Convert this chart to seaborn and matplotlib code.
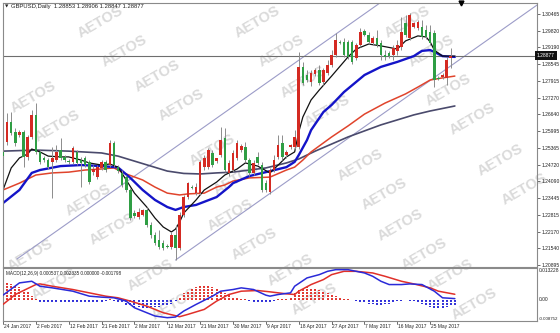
import numpy as np
import pandas as pd
import matplotlib
matplotlib.use("Agg")
import matplotlib.pyplot as plt
import seaborn as sns

sns.set_theme(style="white")
plt.rcParams['font.family'] = ['Liberation Sans', 'DejaVu Sans']

# ---------------- data ----------------
date_labels = ["24 Jan 2017", "2 Feb 2017", "12 Feb 2017", "21 Feb 2017", "2 Mar 2017",
               "12 Mar 2017", "21 Mar 2017", "30 Mar 2017", "9 Apr 2017", "18 Apr 2017",
               "27 Apr 2017", "7 May 2017", "16 May 2017", "25 May 2017"]
label_bars = [0, 8, 16, 24, 32, 40, 48, 56, 64, 72, 80, 88, 96, 104]

opens = [1.2521, 1.2559, 1.2635, 1.2597, 1.2586, 1.2597, 1.2502, 1.2578, 1.2662, 1.2521,
         1.2498, 1.2490, 1.2483, 1.2490, 1.2528, 1.2502, 1.2486, 1.2483, 1.2521, 1.2490,
         1.2498, 1.2483, 1.2444, 1.2425, 1.2460, 1.2483, 1.2471, 1.2555, 1.2463, 1.2441,
         1.2425, 1.2376, 1.2288, 1.2273, 1.2281, 1.2300, 1.2243, 1.2205, 1.2185, 1.2174,
         1.2163, 1.2159, 1.2205, 1.2155, 1.2281, 1.2349, 1.2387, 1.2365, 1.2365, 1.2463,
         1.2463, 1.2517, 1.2486, 1.2509, 1.2574, 1.2441, 1.2452, 1.2498, 1.2528, 1.2540,
         1.2490, 1.2441, 1.2502, 1.2471, 1.2403, 1.2368, 1.2452, 1.2502, 1.2555, 1.2509,
         1.2540, 1.2540, 1.2540, 1.2845, 1.2814, 1.2787, 1.2818, 1.2833, 1.2787, 1.2822,
         1.2852, 1.2890, 1.2940, 1.2940, 1.2940, 1.2940, 1.2879, 1.2928, 1.2982, 1.2967,
         1.2936, 1.2955, 1.2936, 1.2890, 1.2898, 1.2890, 1.2906, 1.2921, 1.3012, 1.2955,
         1.2997, 1.2993, 1.2997, 1.2986, 1.2978, 1.2974, 1.2803, 1.2806, 1.2803, 1.2879,
         1.28853]
highs = [1.2536, 1.2669, 1.2673, 1.2612, 1.2605, 1.2605, 1.2586, 1.2681, 1.2707, 1.2528,
         1.2505, 1.2498, 1.2540, 1.2547, 1.2574, 1.2509, 1.2494, 1.2544, 1.2528, 1.2502,
         1.2505, 1.2490, 1.2471, 1.2471, 1.2490, 1.2490, 1.2566, 1.2563, 1.2471, 1.2452,
         1.2433, 1.2384, 1.2300, 1.2307, 1.2304, 1.2311, 1.2254, 1.2216, 1.2224, 1.2185,
         1.2170, 1.2216, 1.2243, 1.2292, 1.2357, 1.2406, 1.2395, 1.2403, 1.2490, 1.2509,
         1.2536, 1.2528, 1.2498, 1.2616, 1.2612, 1.2490, 1.2528, 1.2566, 1.2551, 1.2559,
         1.2498, 1.2490, 1.2521, 1.2483, 1.2414, 1.2460, 1.2509, 1.2586, 1.2586, 1.2528,
         1.2551, 1.2604, 1.2902, 1.2864, 1.2833, 1.2833, 1.2841, 1.2852, 1.2841, 1.2871,
         1.2909, 1.2974, 1.2947, 1.2955, 1.2947, 1.2947, 1.2936, 1.2993, 1.2989, 1.2978,
         1.2963, 1.2986, 1.2947, 1.2909, 1.2906, 1.2928, 1.2947, 1.3035, 1.3043, 1.3050,
         1.3016, 1.3024, 1.3024, 1.3005, 1.3005, 1.2986, 1.2810, 1.2822, 1.2883, 1.2917,
         1.28906]
lows = [1.2490, 1.2547, 1.2586, 1.2544, 1.2578, 1.2464, 1.2490, 1.2570, 1.2513, 1.2475,
        1.2483, 1.2456, 1.2345, 1.2483, 1.2490, 1.2483, 1.2475, 1.2475, 1.2471, 1.2387,
        1.2463, 1.2399, 1.2433, 1.2418, 1.2452, 1.2444, 1.2463, 1.2463, 1.2441, 1.2387,
        1.2368, 1.2262, 1.2269, 1.2265, 1.2277, 1.2235, 1.2193, 1.2166, 1.2151, 1.2147,
        1.2155, 1.2151, 1.2109, 1.2147, 1.2273, 1.2342, 1.2380, 1.2357, 1.2357, 1.2452,
        1.2456, 1.2463, 1.2479, 1.2502, 1.2444, 1.2429, 1.2444, 1.2490, 1.2521, 1.2483,
        1.2429, 1.2433, 1.2471, 1.2368, 1.2368, 1.2361, 1.2444, 1.2494, 1.2490, 1.2498,
        1.2532, 1.2532, 1.2532, 1.2776, 1.2787, 1.2772, 1.2810, 1.2776, 1.2776, 1.2814,
        1.2845, 1.2883, 1.2932, 1.2883, 1.2875, 1.2856, 1.2871, 1.2921, 1.2963, 1.2932,
        1.2928, 1.2921, 1.2871, 1.2871, 1.2879, 1.2871, 1.2890, 1.2909, 1.2959, 1.2947,
        1.2993, 1.2986, 1.2951, 1.2951, 1.2928, 1.2768, 1.2795, 1.2799, 1.2776, 1.2841,
        1.28847]
closes = [1.2505, 1.2635, 1.2593, 1.2555, 1.2597, 1.2502, 1.2578, 1.2662, 1.2521, 1.2483,
          1.2490, 1.2463, 1.2498, 1.2521, 1.2498, 1.2490, 1.2483, 1.2536, 1.2479, 1.2479,
          1.2471, 1.2406, 1.2456, 1.2463, 1.2483, 1.2452, 1.2555, 1.2471, 1.2448, 1.2395,
          1.2376, 1.2269, 1.2277, 1.2292, 1.2300, 1.2243, 1.2205, 1.2174, 1.2159, 1.2155,
          1.2159, 1.2205, 1.2155, 1.2281, 1.2349, 1.2403, 1.2384, 1.2387, 1.2483, 1.2498,
          1.2528, 1.2471, 1.2498, 1.2566, 1.2452, 1.2479, 1.2517, 1.2555, 1.2544, 1.2490,
          1.2441, 1.2479, 1.2479, 1.2376, 1.2376, 1.2452, 1.2490, 1.2547, 1.2502, 1.2521,
          1.2547, 1.2578, 1.2845, 1.2784, 1.2795, 1.2822, 1.2833, 1.2784, 1.2833, 1.2852,
          1.2890, 1.2947, 1.2936, 1.2890, 1.2883, 1.2864, 1.2928, 1.2978, 1.2967, 1.2940,
          1.2955, 1.2928, 1.2890, 1.2883, 1.2886, 1.2917, 1.2928, 1.2978, 1.2967, 1.3043,
          1.3012, 1.3016, 1.2959, 1.2959, 1.2936, 1.2795, 1.2799, 1.2814, 1.2871, 1.2886,
          1.28877]

# moving averages (read at sample bars)
ma_fast_bars = [0, 2, 4, 6, 7, 9, 11, 14, 16, 19, 21, 24, 26, 28, 30, 32, 35, 37, 39, 41, 42, 43,
                44, 47, 49, 52, 54, 57, 59, 62, 65, 67, 69, 71, 72, 73, 75, 77, 80, 84, 86, 89,
                92, 96, 98, 101, 103, 104, 105, 107, 110]
ma_fast = [1.2376, 1.2460, 1.2498, 1.2513, 1.2532, 1.2521, 1.2505, 1.2502, 1.2502, 1.2490,
           1.2479, 1.2471, 1.2475, 1.2463, 1.2414, 1.2364, 1.2311, 1.2269, 1.2235, 1.2216,
           1.2227, 1.2254, 1.2288, 1.2338, 1.2376, 1.2406, 1.2433, 1.2456, 1.2479, 1.2467,
           1.2441, 1.2471, 1.2502, 1.2521, 1.2597, 1.2654, 1.2719, 1.2757, 1.2810, 1.2883,
           1.2913, 1.2932, 1.2925, 1.2913, 1.2944, 1.2963, 1.2959, 1.2940, 1.2909, 1.2886,
           1.2886]
ma_mid_bars = [0, 4, 7, 9, 14, 19, 24, 28, 31, 34, 37, 40, 42, 44, 47, 52, 55, 56, 60, 64, 69,
               71, 72, 74, 75, 78, 80, 83, 88, 92, 96, 100, 102, 104, 105, 107, 110]
ma_mid = [1.2326, 1.2376, 1.2441, 1.2452, 1.2467, 1.2471, 1.2467, 1.2462, 1.2422, 1.2376,
          1.2338, 1.2311, 1.2300, 1.2311, 1.2319, 1.2349, 1.2387, 1.2402, 1.2429, 1.2444,
          1.2463, 1.2483, 1.2509, 1.2566, 1.2604, 1.2673, 1.2700, 1.2749, 1.2814, 1.2845,
          1.2864, 1.2886, 1.2906, 1.2909, 1.2902, 1.2886, 1.2883]
ma_slow_bars = [0, 4, 8, 12, 16, 20, 24, 27, 30, 34, 37, 40, 43, 45, 49, 52, 54, 56, 60, 65,
                69, 71, 73, 75, 80, 84, 88, 93, 98, 101, 104, 107, 110]
ma_slow = [1.2376, 1.2402, 1.2433, 1.2441, 1.2444, 1.2452, 1.2456, 1.2460, 1.2437, 1.2414,
           1.2387, 1.2364, 1.2357, 1.2361, 1.2364, 1.2387, 1.2395, 1.2410, 1.2422, 1.2425,
           1.2452, 1.2463, 1.2490, 1.2521, 1.2578, 1.2620, 1.2665, 1.2707, 1.2742, 1.2768,
           1.2795, 1.2803, 1.2810]
ma_long_bars = [0, 8, 16, 24, 28, 32, 36, 40, 44, 48, 52, 56, 60, 64, 69, 72, 76, 80, 84, 88,
                92, 96, 100, 104, 110]
ma_long = [1.2524, 1.2528, 1.2524, 1.2517, 1.2505, 1.2486, 1.2467, 1.2448, 1.2439, 1.2437,
           1.2441, 1.2444, 1.2452, 1.2460, 1.2479, 1.2494, 1.2524, 1.2551, 1.2578, 1.2601,
           1.2624, 1.2643, 1.2662, 1.2677, 1.2696]

# channel (start bar, start price, slope per bar)
channel_start_bars = [3.4, 42]
channel_start_prices = [1.2113, 1.2109]
channel_slope = 0.001104
current_price = 1.28877
shift_marker_bar = 111.5

price_ticks = [1.30465, 1.29820, 1.29190, 1.28545, 1.27915, 1.27270, 1.26640, 1.25995,
               1.25365, 1.24720, 1.24090, 1.23445, 1.22815, 1.22170, 1.21540, 1.20895]

# MACD
macd_bars = [0, 4, 7, 9, 12, 17, 21, 24, 27, 30, 32, 35, 37, 40, 42, 44, 47, 51, 53, 56, 58, 61,
             64, 65, 67, 70, 71, 74, 77, 79, 81, 84, 86, 88, 90, 92, 94, 97, 99, 102, 105, 107, 110]
macd_main = [0.00196, 0.00705, 0.00773, 0.00567, 0.00499, 0.00361, 0.00155, 0.00114, 0.00087,
             -0.00051, -0.00326, -0.00532, -0.00669, -0.00738, -0.00710, -0.00463, -0.00188,
             0.00155, 0.00361, 0.00430, 0.00499, 0.00430, 0.00196, 0.00155, 0.00224, 0.00292,
             0.00567, 0.00911, 0.01048, 0.01185, 0.01254, 0.01254, 0.01185, 0.01117, 0.00979,
             0.00773, 0.00636, 0.00636, 0.00663, 0.00636, 0.00361, 0.00087, 0.000537]
signal_bars = [0, 3, 8, 9, 12, 17, 21, 25, 28, 31, 35, 39, 43, 45, 49, 52, 55, 58, 62, 65, 69,
               71, 72, 75, 78, 80, 83, 86, 90, 93, 97, 100, 104, 106, 110]
macd_signal = [-0.00188, 0.00224, 0.00636, 0.00663, 0.00567, 0.00430, 0.00292, 0.00155, 0.00087,
               -0.00051, -0.00257, -0.00532, -0.00697, -0.00601, -0.00394, -0.00051, 0.00224,
               0.00361, 0.00389, 0.00334, 0.00251, 0.00224, 0.00361, 0.00636, 0.00842, 0.01048,
               0.01185, 0.01185, 0.01117, 0.00979, 0.00773, 0.00663, 0.00499, 0.00361, 0.002335]
macd_hist = [0.0062, 0.0068, 0.0066, 0.0060, 0.0052, 0.0042, 0.0031, 0.0018, 0.0004,
             -0.0009, -0.0011, -0.0012, -0.0012, -0.0012, -0.0011, -0.0011, -0.0012, -0.0012,
             -0.0013, -0.0012, -0.0012, -0.0011, -0.0010, -0.0009, -0.0007,
             -0.0003, 0.0003, -0.0003, -0.0008,
             -0.0014, -0.0020, -0.0025, -0.0029, -0.0031, -0.0032, -0.0032, -0.0031, -0.0030,
             -0.0028, -0.0026, -0.0022, -0.0015,
             -0.0003,
             0.0014, 0.0027, 0.0038, 0.0047, 0.0054, 0.0058, 0.0060, 0.0058, 0.0053, 0.0046,
             0.0037, 0.0028, 0.0019,
             0.0012, 0.0006, 0.0004, 0.0002,
             -0.0003, -0.0008, -0.0012, -0.0014, -0.0013, -0.0010, -0.0004,
             0.0002, 0.0003, 0.0004,
             0.0010, 0.0028, 0.0040, 0.0048, 0.0052, 0.0050, 0.0046, 0.0040, 0.0034, 0.0028,
             0.0022, 0.0016,
             0.0010, 0.0005, 0.0002, -0.0001, -0.0003,
             -0.0008, -0.0012, -0.0016, -0.0019, -0.0021, -0.0021, -0.0019, -0.0015, -0.0010,
             -0.0005, -0.0003, -0.0002, -0.0003, -0.0004,
             -0.0010, -0.0018, -0.0025, -0.0030, -0.0033, -0.0034, -0.0032, -0.0028, -0.0024,
             -0.0020]
macd_top, macd_bottom = 0.013228, -0.008752

title_text = "GBPUSD,Daily  1.28853 1.28906 1.28847 1.28877"
macd_text = "MACD(12,26,9) 0.000537 0.002335 0.000000 -0.001798"
watermark = "AETOS"

# ---------------- layout ----------------
W, H = 560, 333
fig = plt.figure(figsize=(W / 100, H / 100), dpi=100)
fig.patch.set_facecolor("white")

def fx(px):
    return px / W

def fy(py):
    return 1 - py / H

ax = fig.add_axes([fx(3), fy(267), fx(537) - fx(3), fy(3) - fy(267)])
axm = fig.add_axes([fx(3), fy(321), fx(537) - fx(3), fy(268) - fy(321)])

n = len(closes)
bars = np.arange(n)
df = pd.DataFrame({"bar": bars, "open": opens, "high": highs, "low": lows, "close": closes})
up = df["close"] >= df["open"]
col_up, col_dn = "#d42a22", "#2f9e44"
colors = np.where(up, col_up, col_dn)

XMAX = 130.0
for a in (ax, axm):
    a.set_xlim(0, XMAX)
    a.set_facecolor("none")
    for s in a.spines.values():
        s.set_color("#8a8a8a")
        s.set_linewidth(0.8)
    a.tick_params(left=False, bottom=False, labelleft=False, labelbottom=False)

ax.set_ylim(1.20825, 1.30884)
axm.set_ylim(macd_bottom, macd_top)

# watermarks (pairs of words, kept inside the canvas)
wm_pos = [(100, 22), (257, 22), (407, 22), (157, 76), (303, 82), (448, 90), (33, 97),
          (212, 150), (360, 165), (500, 160), (88, 200), (230, 215), (400, 225),
          (150, 275), (290, 270), (450, 275), (30, 255)]
for (px, py) in wm_pos:
    for dx, dy in ((0, 0), (24, 29)):
        fig.text(fx(px + dx), fy(py + dy), watermark, rotation=30, fontsize=10.5,
                 fontweight="bold", color="#dadada", ha="center", va="center", zorder=-5)

# channel & current price line
for sb, sp in zip(channel_start_bars, channel_start_prices):
    xs = np.array([sb, XMAX])
    ax.plot(xs, sp + channel_slope * (xs - sb), color="#9c9cc8", lw=0.8, zorder=1)
ax.axhline(current_price, color="#6e6e6e", lw=0.8, zorder=1)

# moving averages
sns.lineplot(x=ma_long_bars, y=ma_long, ax=ax, color="#4a4a6c", lw=1.2, zorder=2)
sns.lineplot(x=ma_slow_bars, y=ma_slow, ax=ax, color="#e0442c", lw=1.1, zorder=2)
sns.lineplot(x=ma_mid_bars, y=ma_mid, ax=ax, color="#1414c8", lw=1.7, zorder=2)
sns.lineplot(x=ma_fast_bars, y=ma_fast, ax=ax, color="#111111", lw=0.9, zorder=2)

# candles
ax.vlines(df["bar"], df["low"], df["high"], color="#8c8c8c", lw=0.7, zorder=3)
body_lo = np.minimum(df["open"], df["close"])
body_h = np.maximum(np.abs(df["close"] - df["open"]), 0.00012)
ax.bar(df["bar"], body_h, bottom=body_lo, width=0.62, color=colors, linewidth=0, zorder=4)

# price axis
ax.yaxis.tick_right()
ax.set_yticks(price_ticks)
ax.set_yticklabels([f"{v:.5f}" for v in price_ticks])
ax.tick_params(axis="y", right=True, labelright=True, length=2.2, width=0.6, color="#555555",
               labelsize=3.6, pad=1.2, labelcolor="#222222")
ax.text(1.0, current_price, f"{current_price:.5f}", transform=ax.get_yaxis_transform(),
        ha="left", va="center", fontsize=3.6, color="white",
        bbox=dict(boxstyle="square,pad=0.35", fc="#111111", ec="none"), zorder=10)

# header texts
fig.text(fx(5), fy(6.5), "\u25BC", fontsize=3.2, color="#222222", ha="left", va="center",
         family="DejaVu Sans")
fig.text(fx(11), fy(6.5), title_text, fontsize=4.2, color="#222222", ha="left", va="center")
ax.plot([shift_marker_bar], [1.30884], marker="v", color="black", ms=3.5, clip_on=False,
        zorder=12)

# MACD
hist_cols = ["#e0302a" if v > 0 else "#2a2ad8" for v in macd_hist]
axm.vlines(bars, 0, macd_hist, colors=hist_cols, lw=1.4, linestyles=(0, (1.0, 0.55)), zorder=2)
sns.lineplot(x=signal_bars, y=macd_signal, ax=axm, color="#e0302a", lw=1.1, zorder=3)
sns.lineplot(x=macd_bars, y=macd_main, ax=axm, color="#2a2ad8", lw=1.1, zorder=3)
axm.set_xlabel("")
axm.set_ylabel("")
ax.set_xlabel("")
ax.set_ylabel("")
axm.text(0.005, 0.94, macd_text, transform=axm.transAxes, fontsize=3.3, color="#222222",
         ha="left", va="top")
for txt, val, va, fs in (("0.013228", macd_top, "top", 3.5), ("0.00", 0.0, "center", 3.5),
                         ("-0.008752", macd_bottom, "bottom", 3.2)):
    axm.text(1.003, val, txt, transform=axm.get_yaxis_transform(), fontsize=fs,
             color="#222222", ha="left", va=va)

# date axis
for b, lab in zip(label_bars, date_labels):
    axm.text(b + 0.2, -0.05, lab, transform=axm.get_xaxis_transform(), fontsize=3.5,
             color="#222222", ha="left", va="top", clip_on=False)
    axm.plot([b, b], [0, -0.06], transform=axm.get_xaxis_transform(), color="#555555",
             lw=0.6, clip_on=False)

fig.savefig("out.png", dpi=100, facecolor="white")
